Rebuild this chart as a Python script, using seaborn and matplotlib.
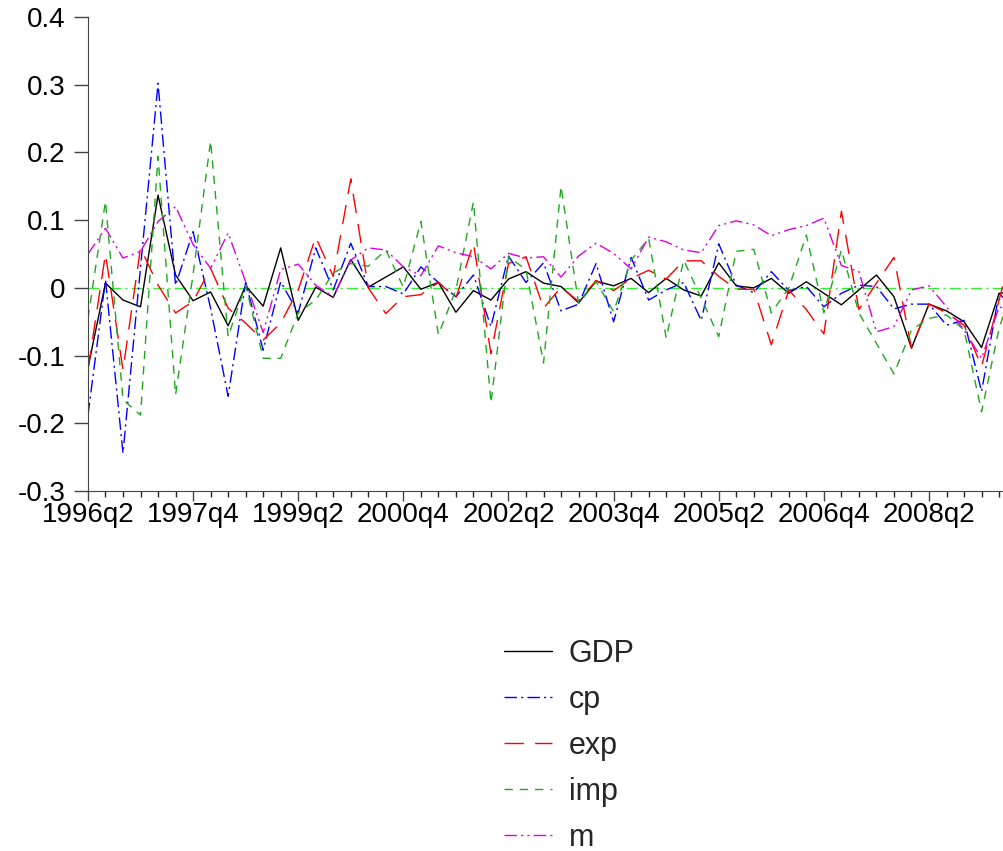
import numpy as np
import pandas as pd
import matplotlib
matplotlib.use("Agg")
import matplotlib.pyplot as plt
import seaborn as sns

# quarterly growth rates, 1996q2 onwards
quarters = [f"{1996 + (q + 1) // 4}q{(q + 1) % 4 + 1}" for q in range(54)]

gdp = [-0.118, 0.007, -0.018, -0.028, 0.137, 0.019, -0.019, -0.006, -0.056, 0.003,
       -0.027, 0.059, -0.048, 0.001, -0.014, 0.042, 0.001, 0.016, 0.031, -0.002,
       0.008, -0.036, -0.004, -0.018, 0.013, 0.024, 0.007, 0.002, -0.022, 0.010,
       0.003, 0.014, -0.007, 0.014, -0.003, -0.012, 0.037, 0.003, 0.000, 0.014,
       -0.008, 0.009, -0.008, -0.025, -0.003, 0.019, -0.013, -0.089, -0.024, -0.034,
       -0.050, -0.088, -0.008, -0.006]
cp = [-0.188, 0.012, -0.244, 0.030, 0.302, 0.004, 0.083, -0.030, -0.160, 0.008,
      -0.092, 0.009, -0.037, 0.059, -0.003, 0.066, 0.002, 0.002, -0.009, 0.031,
      0.008, -0.013, 0.019, -0.057, 0.047, 0.008, 0.037, -0.034, -0.024, 0.036,
      -0.050, 0.045, -0.018, -0.003, 0.008, -0.048, 0.065, 0.004, -0.007, 0.024,
      -0.004, 0.002, -0.028, -0.008, 0.004, 0.002, -0.031, -0.024, -0.024, -0.055,
      -0.048, -0.153, -0.008, -0.035]
exp_ = [-0.121, 0.050, -0.121, 0.059, 0.004, -0.037, -0.020, 0.029, -0.030, -0.052,
        -0.077, -0.052, -0.003, 0.075, 0.017, 0.161, 0.000, -0.038, -0.013, -0.010,
        0.008, -0.015, 0.066, -0.097, 0.036, 0.046, -0.030, 0.001, -0.020, 0.011,
        -0.004, 0.014, 0.026, 0.013, 0.040, 0.040, 0.017, -0.002, -0.002, -0.084,
        -0.003, -0.032, -0.068, 0.113, -0.032, 0.007, 0.045, -0.089, -0.024, -0.037,
        -0.055, -0.116, -0.018, 0.080]
imp = [-0.045, 0.128, -0.165, -0.188, 0.194, -0.158, 0.020, 0.217, -0.072, 0.004,
       -0.104, -0.104, -0.037, -0.018, 0.022, 0.036, 0.032, 0.056, 0.001, 0.098,
       -0.069, -0.003, 0.127, -0.170, 0.046, 0.027, -0.111, 0.150, -0.023, 0.009,
       -0.035, 0.041, 0.073, -0.074, 0.041, -0.015, -0.072, 0.054, 0.057, -0.037,
       0.000, 0.078, -0.037, 0.056, -0.037, -0.082, -0.127, -0.062, -0.045, -0.040,
       -0.062, -0.183, -0.060, 0.020]
m = [0.050, 0.088, 0.044, 0.054, 0.098, 0.120, 0.064, 0.029, 0.081, 0.009,
     -0.066, 0.027, 0.035, 0.004, -0.013, 0.041, 0.059, 0.056, 0.031, 0.018,
     0.062, 0.052, 0.046, 0.028, 0.051, 0.044, 0.046, 0.016, 0.047, 0.066,
     0.051, 0.028, 0.075, 0.068, 0.056, 0.052, 0.092, 0.099, 0.093, 0.077,
     0.086, 0.092, 0.103, 0.033, 0.024, -0.065, -0.057, -0.003, 0.003, -0.028,
     -0.062, -0.104, -0.028, -0.035]

df = pd.DataFrame({"t": np.arange(len(quarters)), "GDP": gdp, "cp": cp,
                   "exp": exp_, "imp": imp, "m": m})

styles = {
    "GDP": ("black", "-"),
    "cp": ("#0000ff", (0, (9, 3, 1.5, 3))),
    "exp": ("#ff0000", (0, (14, 8))),
    "imp": ("#1fa81f", (0, (6, 5))),
    "m": ("#dd00dd", (0, (9, 3, 1.5, 3, 1.5, 3))),
}

sns.set_style("ticks")
plt.rcParams['font.family'] = ['Liberation Sans', 'DejaVu Sans']

fig = plt.figure(figsize=(10.04, 8.51), dpi=100)
ax = fig.add_axes([0.0876, 0.423, 0.9124, 0.557])

ax.axhline(0, color="#33ee33", lw=1.0, ls=(0, (8, 3, 1.5, 3)), zorder=1)
for name, (col, ls) in styles.items():
    sns.lineplot(data=df, x="t", y=name, color=col, linestyle=ls, lw=1.0,
                 ax=ax, label=name)

ax.set_xlim(0, 52.28)
ax.set_ylim(-0.3, 0.4)
ax.set_yticks([-0.3, -0.2, -0.1, 0, 0.1, 0.2, 0.3, 0.4])
ax.set_yticklabels(["-0.3", "-0.2", "-0.1", "0", "0.1", "0.2", "0.3", "0.4"])
ax.set_xticks(np.arange(0, 53, 6))
ax.set_xticklabels(quarters[0:53:6])
ax.set_xticks(np.arange(0, 53), minor=True)
ax.set_xlabel("")
ax.set_ylabel("")
ax.tick_params(axis="both", labelsize=20, colors="#444444", labelcolor="black")
ax.tick_params(axis="y", length=10, width=1, pad=6)
ax.tick_params(axis="x", which="major", length=7, width=1, pad=1)
ax.tick_params(axis="x", which="minor", length=4, width=1)
sns.despine(ax=ax)
for s in ["left", "bottom"]:
    ax.spines[s].set_color("#444444")

ax.legend(loc="upper left", bbox_to_anchor=(504 / 1004, 1 - 639 / 851),
          bbox_transform=fig.transFigure, frameon=False, fontsize=22,
          handlelength=1.57, handletextpad=0.55, labelspacing=0.52,
          borderpad=0, borderaxespad=0)

fig.savefig("out.png", dpi=100)
